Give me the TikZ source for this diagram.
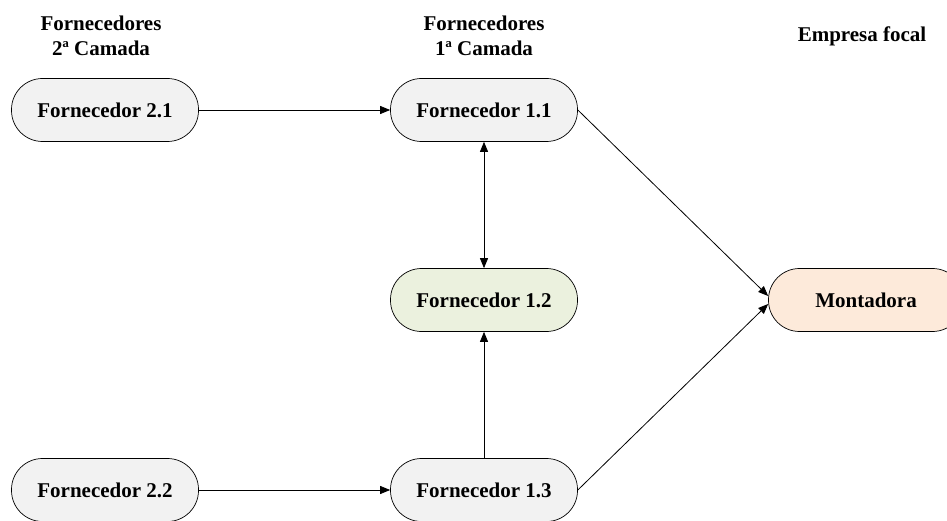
\documentclass[tikz,border=0pt]{standalone}
\usepackage{fontspec}
\setmainfont{Liberation Serif}
\usetikzlibrary{arrows.meta}
\definecolor{boxgray}{HTML}{F2F2F2}
\definecolor{boxgreen}{HTML}{EBF1DE}
\definecolor{boxorange}{HTML}{FDEADA}
\tikzset{
  pill/.style={draw=black, line width=0.7pt, rounded corners=31pt, minimum width=187pt, minimum height=63pt, inner sep=0pt, font=\bfseries\fontsize{21}{25}\selectfont},
  title/.style={align=center, font=\bfseries\fontsize{21}{25}\selectfont},
  conn/.style={line width=0.8pt, -{Triangle[length=10pt,width=8pt]}},
  bconn/.style={line width=0.8pt, {Triangle[length=10pt,width=8pt]}-{Triangle[length=10pt,width=8pt]}}
}
\begin{document}
\begin{tikzpicture}[x=1pt,y=-1pt]
\useasboundingbox (0,0) rectangle (947,521);
\node[title] (t2) at (101,36) {Fornecedores\\2ª Camada};
\node[title] (t1) at (484,36) {Fornecedores\\1ª Camada};
\node[title] (t0) at (862,36) {Empresa focal};
\node[pill, fill=boxgray] (f21) at (105,110) {Fornecedor 2.1};
\node[pill, fill=boxgray] (f11) at (484,110) {Fornecedor 1.1};
\node[pill, fill=boxgreen] (f12) at (484,300) {Fornecedor 1.2};
\node[pill, fill=boxorange, minimum width=195pt] (m) at (866,300) {Montadora};
\node[pill, fill=boxgray] (f22) at (105,490) {Fornecedor 2.2};
\node[pill, fill=boxgray] (f13) at (484,490) {Fornecedor 1.3};
\draw[conn] (f21) -- (f11);
\draw[conn] (f22) -- (f13);
\draw[bconn] (f11) -- (f12);
\draw[conn] (f13) -- (f12);
\draw[conn] (f11.east) -- ([yshift=4pt]m.west);
\draw[conn] (f13.east) -- ([yshift=-4pt]m.west);
\end{tikzpicture}
\end{document}
